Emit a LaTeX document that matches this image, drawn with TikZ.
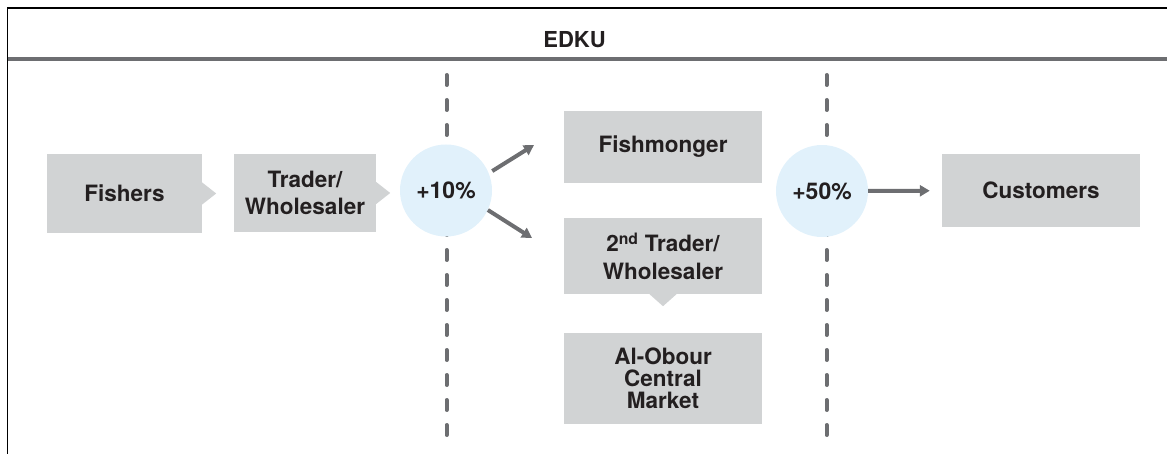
\documentclass[tikz,border=0pt]{standalone}
\usepackage{fontspec}
\setmainfont{TeX Gyre Heros}
\usetikzlibrary{arrows.meta, calc, positioning}
\definecolor{boxgray}{HTML}{D1D3D4}
\definecolor{linegray}{HTML}{6D6E71}
\definecolor{markup}{HTML}{E1F1FB}
\definecolor{ink}{HTML}{231F20}

\begin{document}
\begin{tikzpicture}[x=1pt, y=-1pt,
		box/.style={fill=boxgray, text=ink, align=center, inner sep=0pt,
			font=\bfseries\fontsize{22.5}{27.5}\selectfont},
		rise/.style={circle, fill=markup, text=ink, inner sep=0pt, minimum size=92pt,
			font=\bfseries\fontsize{23}{27}\selectfont},
		flow/.style={draw=linegray, line width=4pt, -{Triangle[length=10pt, width=11pt]}},
		cut/.style={draw=linegray, line width=4pt, line cap=round, dash pattern=on 10pt off 15pt}]
			\useasboundingbox (0,0) rectangle (1167,454);

			% frame and header
			\coordinate (frame bottom) at (7.5,454);
			\coordinate (frame corner) at (7.5,8);
			\coordinate (frame right) at (1167,8);
			\draw[black, line width=1.3pt] (frame bottom) -- (frame corner) -- (frame right);
			\node[text=ink, font=\bfseries\fontsize{22}{26}\selectfont] (edku) at (574.5,39.5) {EDKU};

			% markup borders
			\coordinate (cut1 bottom) at (446.5,435);
			\coordinate (cut1 top) at (446.5,61);
			\coordinate (cut2 bottom) at (826.5,435);
			\coordinate (cut2 top) at (826.5,61);
			\draw[cut] (cut1 bottom) -- (cut1 top);
			\draw[cut] (cut2 bottom) -- (cut2 top);

			\coordinate (rule left) at (7.5,59);
			\coordinate (rule right) at (1167,59);
			\draw[linegray, line width=4pt] (rule left) -- (rule right);

			% chain
			\node[box, minimum width=155pt, minimum height=79pt] (fishers) at (124.5,193.5) {Fishers};
			\fill[boxgray] (fishers.east) ++(0,-11) -- ++(14,11) -- ++(-14,11) -- cycle;

			\node[box, minimum width=142pt, minimum height=78pt] (trader) at (305,193) {Trader/\\Wholesaler};
			\fill[boxgray] (trader.east) ++(0,-11) -- ++(14,11) -- ++(-14,11) -- cycle;

			\node[rise] (p10) at (446,190.5) {+10\%};

			\node[box, minimum width=198pt, minimum height=72pt] (fishmonger) at (663,147) {Fishmonger};

			\node[box, minimum width=198pt, minimum height=76pt] (trader2) at (663,256)
				{2\textsuperscript{nd} Trader/\\Wholesaler};
			\fill[boxgray] (trader2.south) ++(-13.5,0) -- ++(27,0) -- ++(-13.5,12) -- cycle;

			\node[box, minimum width=198pt, minimum height=91pt,
				font=\bfseries\fontsize{22.5}{22}\selectfont] (obour) at (663,378.5)
				{Al-Obour\\Central\\Market};

			\node[rise] (p50) at (822,191) {+50\%};

			\node[box, minimum width=198pt, minimum height=73pt] (customers) at (1041,190.5) {Customers};

			% flows
			\coordinate (to fishmonger) at (534,145);
			\coordinate (to trader2) at (532,238);
			\draw[flow, shorten <=4pt] (p10.22) -- (to fishmonger);
			\draw[flow] (p10.-25) -- (to trader2);
			\draw[flow, shorten >=12pt] (p50) -- (customers);
		\end{tikzpicture}
\end{document}
